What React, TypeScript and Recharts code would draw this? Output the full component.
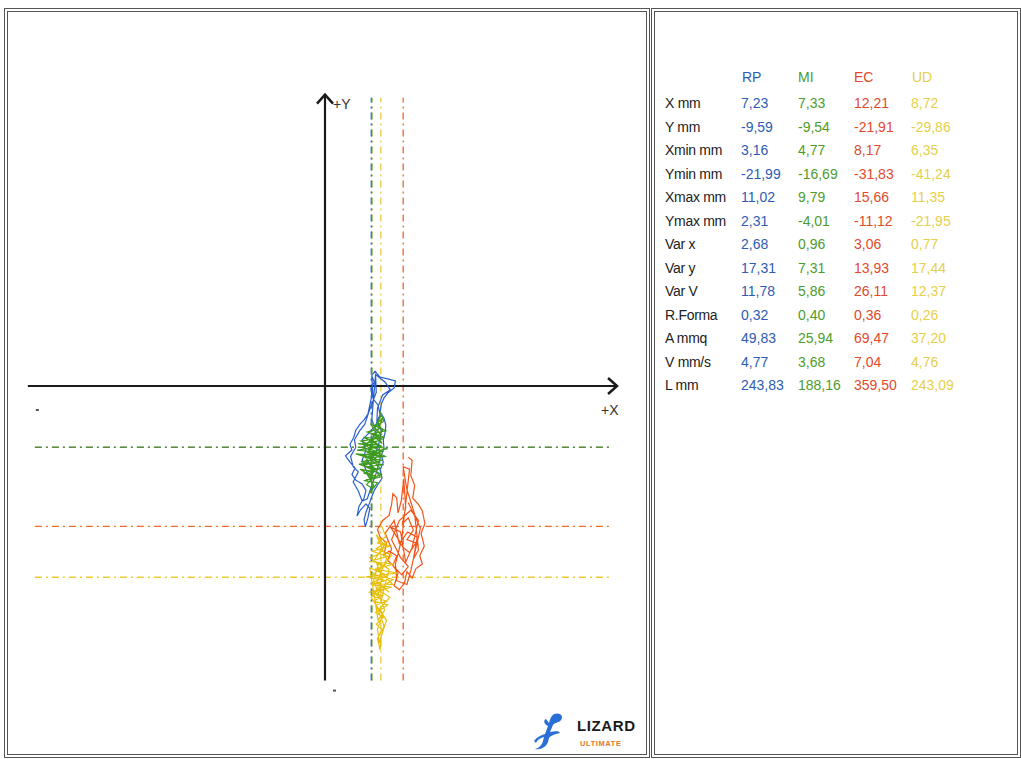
import React from 'react';
import { ScatterChart, Scatter, XAxis, YAxis, ReferenceLine, ReferenceDot } from 'recharts';

// Conditions and the statistics table
const conditions = ['RP', 'MI', 'EC', 'UD'];
const rowLabels = ['X mm', 'Y mm', 'Xmin mm', 'Ymin mm', 'Xmax mm', 'Ymax mm', 'Var x', 'Var y', 'Var V', 'R.Forma', 'A mmq', 'V mm/s', 'L mm'];
const rpStats = [7.23, -9.59, 3.16, -21.99, 11.02, 2.31, 2.68, 17.31, 11.78, 0.32, 49.83, 4.77, 243.83];
const miStats = [7.33, -9.54, 4.77, -16.69, 9.79, -4.01, 0.96, 7.31, 5.86, 0.4, 25.94, 3.68, 188.16];
const ecStats = [12.21, -21.91, 8.17, -31.83, 15.66, -11.12, 3.06, 13.93, 26.11, 0.36, 69.47, 7.04, 359.5];
const udStats = [8.72, -29.86, 6.35, -41.24, 11.35, -21.95, 0.77, 17.44, 12.37, 0.26, 37.2, 4.76, 243.09];

// Centre-of-pressure traces (mm)
const rpTrace = [
  [7.3, 1.6], [7.8, 2.3], [8.6, 1.4], [9.8, 1.1], [11.0, 0.8], [10.8, -0.3], [9.8, -1.1], [9.2, -1.9], [8.8, -2.8],
  [8.6, -4.1], [9.2, -5.0], [9.5, -6.1], [9.4, -7.2], [9.1, -8.4], [9.2, -9.7], [8.8, -10.8], [9.1, -11.9], [8.6, -13.1],
  [8.9, -14.4], [8.3, -15.3], [7.7, -16.3], [7.3, -17.3], [6.9, -18.4], [6.4, -19.7], [6.1, -20.9], [6.3, -22.0],
  [6.7, -20.6], [7.0, -19.1], [6.4, -18.4], [5.5, -19.4], [5.0, -20.3], [5.3, -18.8], [6.1, -17.5], [6.4, -16.3],
  [5.8, -15.3], [4.8, -14.7], [4.2, -13.8], [4.7, -12.8], [3.9, -11.9], [3.2, -10.9], [4.2, -10.0], [3.9, -9.1],
  [4.5, -8.0], [4.8, -6.9], [5.5, -5.9], [6.1, -5.3], [6.7, -4.4], [7.0, -3.0], [7.3, -1.6], [7.2, -0.3], [7.7, 0.6],
  [7.3, 1.6], [7.5, -2.0], [8.3, -3.0], [8.6, -4.5], [8.0, -5.9], [7.0, -7.2], [5.8, -8.4], [6.4, -10.0], [5.8, -11.6],
  [6.4, -13.1], [7.0, -14.4], [7.7, -13.1], [6.7, -11.9], [7.7, -10.8], [8.3, -9.4], [7.3, -8.4], [8.0, -6.9], [7.3, -5.3],
  [7.9, 1.8], [9.4, 0.6], [10.2, -0.6], [9.0, -1.4], [8.2, -3.4], [8.1, -5.6], [8.8, -7.0], [8.4, -9.0], [8.6, -11.4],
  [8.0, -13.6], [7.2, -15.8], [6.6, -17.6], [5.8, -18.0], [5.2, -16.4], [4.4, -15.0], [5.2, -13.4], [4.4, -12.6],
  [4.0, -11.0], [4.8, -9.6], [4.6, -8.4], [5.4, -7.0], [6.2, -6.0], [6.8, -4.2], [7.4, -2.6], [8.0, -1.0], [7.9, 1.8],
].map(([x, y]) => ({ x, y }));

const miTrace = [
  [8.6, -4.0], [9.2, -5.5], [8.0, -6.2], [9.5, -7.0], [7.2, -7.5], [9.0, -8.3], [6.0, -8.0], [8.4, -9.2], [5.2, -9.0],
  [9.8, -9.8], [6.5, -10.4], [8.8, -10.9], [4.8, -10.6], [7.8, -11.5], [5.6, -11.8], [9.2, -12.3], [6.3, -12.6],
  [8.0, -13.4], [5.5, -13.0], [7.4, -14.2], [6.2, -14.8], [8.2, -15.1], [7.0, -16.7], [7.6, -15.5], [6.6, -13.8],
  [8.6, -12.8], [6.9, -11.2], [9.4, -11.0], [7.5, -10.0], [5.8, -9.6], [8.2, -8.6], [6.8, -8.8], [8.8, -7.6], [7.6, -6.4],
  [9.0, -5.0], [8.3, -6.8], [7.0, -9.4], [9.0, -10.2], [6.0, -10.8], [8.4, -11.9], [5.3, -12.2], [7.2, -12.9],
  [8.8, -13.8], [6.8, -14.6], [7.9, -13.0], [6.4, -11.6], [8.0, -10.4], [6.2, -9.2], [7.8, -8.0], [8.9, -9.0],
  [7.2, -6.0], [8.7, -6.6], [6.6, -7.2], [9.3, -8.0], [5.6, -8.6], [8.0, -9.6], [5.0, -10.0], [8.6, -10.4], [6.2, -11.2],
  [9.0, -11.6], [5.9, -12.4], [8.4, -13.0], [6.0, -13.6], [7.8, -14.0], [6.5, -15.4], [7.4, -16.0], [7.2, -14.6],
  [8.6, -14.2], [7.0, -12.0], [8.2, -11.0], [6.6, -9.8], [8.8, -9.4], [7.4, -8.6], [9.0, -7.0], [8.2, -5.6], [8.9, -4.4],
  [8.4, -5.0],
].map(([x, y]) => ({ x, y }));

const ecTrace = [
  [13.0, -11.1], [13.6, -11.6], [13.4, -14.0], [14.0, -15.5], [13.7, -17.5], [14.6, -18.5], [15.2, -19.5], [15.6, -21.5],
  [15.0, -23.0], [15.5, -25.0], [14.8, -26.5], [15.2, -27.8], [14.2, -28.5], [13.6, -30.0], [12.8, -29.0], [12.4, -30.8],
  [11.6, -31.8], [10.8, -31.2], [11.4, -29.2], [10.6, -28.0], [11.2, -26.5], [10.0, -25.8], [9.2, -26.4], [9.6, -24.5],
  [8.6, -23.6], [8.2, -22.4], [9.0, -21.0], [10.0, -20.2], [10.4, -18.5], [10.6, -16.8], [11.2, -17.5], [11.4, -19.8],
  [11.9, -18.0], [12.3, -14.5], [12.6, -19.0], [12.1, -21.5], [13.0, -20.6], [13.8, -22.5], [12.8, -24.0], [14.2, -24.5],
  [13.2, -26.0], [12.2, -25.2], [11.0, -23.2], [10.2, -22.0], [11.8, -22.8], [12.6, -27.5], [13.6, -25.2], [14.6, -21.0],
  [13.4, -19.4], [11.6, -21.0], [10.4, -24.0], [11.8, -26.8], [13.0, -28.2], [12.0, -29.5],
  [9.8, -27.2], [10.4, -25.4], [9.4, -23.0], [10.8, -21.0], [11.6, -24.6], [12.9, -22.8], [14.4, -23.6], [13.8, -27.0],
  [14.6, -25.6], [14.0, -20.0], [12.8, -16.2], [12.2, -12.6], [13.2, -13.0], [12.0, -23.8], [11.0, -27.8], [11.2, -30.4],
  [12.8, -31.0], [13.4, -28.8], [14.9, -22.2], [13.0, -18.2],
].map(([x, y]) => ({ x, y }));

const udTrace = [
  [8.9, -22.0], [9.5, -23.5], [8.2, -24.5], [10.2, -25.0], [7.4, -25.8], [9.8, -26.6], [6.9, -27.4], [10.8, -27.8],
  [7.8, -28.6], [11.3, -29.2], [6.4, -29.8], [9.4, -30.4], [7.2, -31.0], [10.4, -31.4], [6.8, -32.2], [9.0, -32.8],
  [7.6, -33.6], [9.8, -34.2], [7.9, -35.4], [9.2, -36.0], [8.0, -37.2], [8.9, -38.0], [8.2, -39.4], [8.6, -41.2],
  [8.8, -39.0], [9.6, -36.6], [8.5, -34.8], [10.1, -33.0], [8.3, -31.8], [10.6, -30.2], [7.5, -29.4], [9.0, -28.2],
  [7.0, -26.8], [8.6, -26.2], [9.2, -24.8], [8.0, -23.2], [9.6, -27.0], [8.1, -30.6], [9.4, -31.6], [7.9, -32.5],
  [8.8, -33.4], [10.0, -28.6], [8.4, -27.6], [7.6, -30.4], [9.3, -35.0], [8.3, -36.6],
  [7.0, -28.4], [9.8, -29.6], [7.2, -30.8], [10.6, -31.0], [8.6, -29.0], [10.4, -26.4], [8.0, -25.4], [9.8, -24.2],
  [7.8, -27.0], [9.0, -30.2], [7.4, -32.8], [9.6, -33.6], [8.0, -34.2], [9.2, -37.4], [8.5, -40.2], [8.2, -38.0],
  [9.0, -35.8], [7.2, -33.0], [8.8, -31.2], [10.0, -32.2],
].map(([x, y]) => ({ x, y }));

const TRACE_COLORS = ['#2b5fd0', '#3c9a1c', '#f2551a', '#e8c00c'];
const MEAN_COLORS = ['#2d5fa0', '#6a9e2a', '#ee6a30', '#eccb3a'];
const TABLE_COLORS = ['#2e5bb5', '#4e9c2c', '#e24a2a', '#e6cf4a'];

const stats = [rpStats, miStats, ecStats, udStats];
const traces = [rpTrace, miTrace, ecTrace, udTrace];

const fmt = (v: number) => v.toFixed(2).replace('.', ',');
const FONT = '"Liberation Sans", Arial, sans-serif';
const noDot = () => <g />;

const XArrow = (p: any) => (
  <g>
    <path d={`M${p.cx - 9},${p.cy - 8} L${p.cx},${p.cy} L${p.cx - 9},${p.cy + 8}`} fill="none" stroke="#1a1a1a" strokeWidth={2.5} />
    <text x={p.cx - 16} y={p.cy + 29} fontSize={14} fontFamily={FONT} fill="#333">+X</text>
  </g>
);

const YArrow = (p: any) => (
  <g>
    <path d={`M${p.cx - 8},${p.cy + 9} L${p.cx},${p.cy} L${p.cx + 8},${p.cy + 9}`} fill="none" stroke="#1a1a1a" strokeWidth={2.5} />
    <text x={p.cx + 8} y={p.cy + 14} fontSize={14} fontFamily={FONT} fill="#333">+Y</text>
  </g>
);

const MinusMark = (dx: number, dy: number) => (p: any) => (
  <rect x={p.cx + dx} y={p.cy + dy} width={3} height={2} fill="#555" />
);

const Lizard = () => (
  <svg width={40} height={44} viewBox="0 0 40 44">
    <path
      d="M24 4 C30 2 34 6 31 10 C29 13 25 12 23 15 L20 22 C24 22 28 20 30 23 L26 24 C23 25 20 26 19 28 L18 32 C16 37 11 40 5 39 C9 38 12 35 13 31 L14 27 C10 28 7 30 6 33 L4 31 C7 27 11 25 15 24 L18 16 C14 14 13 10 16 9 L19 13 C20 9 21 6 24 4 Z"
      fill="#2a6fd8"
    />
  </svg>
);

export default function App() {
  return (
    <div style={{ position: 'absolute', left: 0, top: 0, width: 1021, height: 759, background: '#fff', overflow: 'hidden' }}>
      {/* panel frames */}
      <div style={{ position: 'absolute', left: 4, top: 8, width: 638, height: 742, border: '4px double #555' }} />
      <div style={{ position: 'absolute', left: 651, top: 8, width: 362, height: 742, border: '4px double #555' }} />

      <div style={{ position: 'absolute', left: 0, top: 0 }}>
        <ScatterChart width={650} height={759} margin={{ top: 85, right: 24, bottom: 72, left: 24 }}>
          <XAxis type="number" dataKey="x" domain={[-47, 47]} hide />
          <YAxis type="number" dataKey="y" domain={[-47, 47]} hide />

          {/* mean lines */}
          {stats.map((s, i) => (
            <ReferenceLine
              key={`h${i}`}
              segment={[{ x: -45.3, y: s[1] }, { x: 44.8, y: s[1] }]}
              stroke={MEAN_COLORS[i]}
              strokeWidth={1.3}
              strokeDasharray="7 4 2 4"
            />
          ))}
          {stats.map((s, i) => (
            <ReferenceLine
              key={`v${i}`}
              segment={[{ x: s[0], y: -46 }, { x: s[0], y: 45 }]}
              stroke={MEAN_COLORS[i]}
              strokeWidth={1.3}
              strokeDasharray="7 4 2 4"
            />
          ))}

          {/* axes */}
          <ReferenceLine segment={[{ x: -46.4, y: 0 }, { x: 45.6, y: 0 }]} stroke="#1a1a1a" strokeWidth={2.2} />
          <ReferenceLine segment={[{ x: 0, y: -46 }, { x: 0, y: 45.5 }]} stroke="#1a1a1a" strokeWidth={2.2} />
          <ReferenceDot x={45.6} y={0} shape={XArrow} />
          <ReferenceDot x={0} y={45.5} shape={YArrow} />
          <ReferenceDot x={-46.4} y={0} shape={MinusMark(8, 23)} />
          <ReferenceDot x={0} y={-46} shape={MinusMark(8, 9)} />

          {traces.map((t, i) => (
            <Scatter
              key={conditions[i]}
              name={conditions[i]}
              data={t}
              line={{ stroke: TRACE_COLORS[i], strokeWidth: 1.2 }}
              shape={noDot}
              isAnimationActive={false}
            />
          ))}
        </ScatterChart>
      </div>

      {/* logo */}
      <div style={{ position: 'absolute', left: 530, top: 710 }}>
        <Lizard />
      </div>
      <div style={{ position: 'absolute', left: 577, top: 717, fontFamily: FONT, fontWeight: 700, fontSize: 15, color: '#1a1a1a', letterSpacing: 0.6 }}>
        LIZARD
      </div>
      <div style={{ position: 'absolute', left: 580, top: 739, fontFamily: FONT, fontWeight: 700, fontSize: 7.5, color: '#e0782a', letterSpacing: 0.6 }}>
        ULTIMATE
      </div>

      {/* statistics table */}
      {conditions.map((c, j) => (
        <div key={c} style={{ position: 'absolute', left: [742, 798, 854, 912][j], top: 69, fontFamily: FONT, fontSize: 14, color: TABLE_COLORS[j] }}>
          {c}
        </div>
      ))}
      {rowLabels.map((label, r) => (
        <React.Fragment key={label}>
          <div style={{ position: 'absolute', left: 665, top: 95 + r * 23.5, fontFamily: FONT, fontSize: 14, color: '#222', letterSpacing: -0.3 }}>
            {label}
          </div>
          {stats.map((s, j) => (
            <div key={j} style={{ position: 'absolute', left: [741, 798, 854, 911][j], top: 95 + r * 23.5, fontFamily: FONT, fontSize: 14, color: TABLE_COLORS[j] }}>
              {fmt(s[r])}
            </div>
          ))}
        </React.Fragment>
      ))}
    </div>
  );
}
